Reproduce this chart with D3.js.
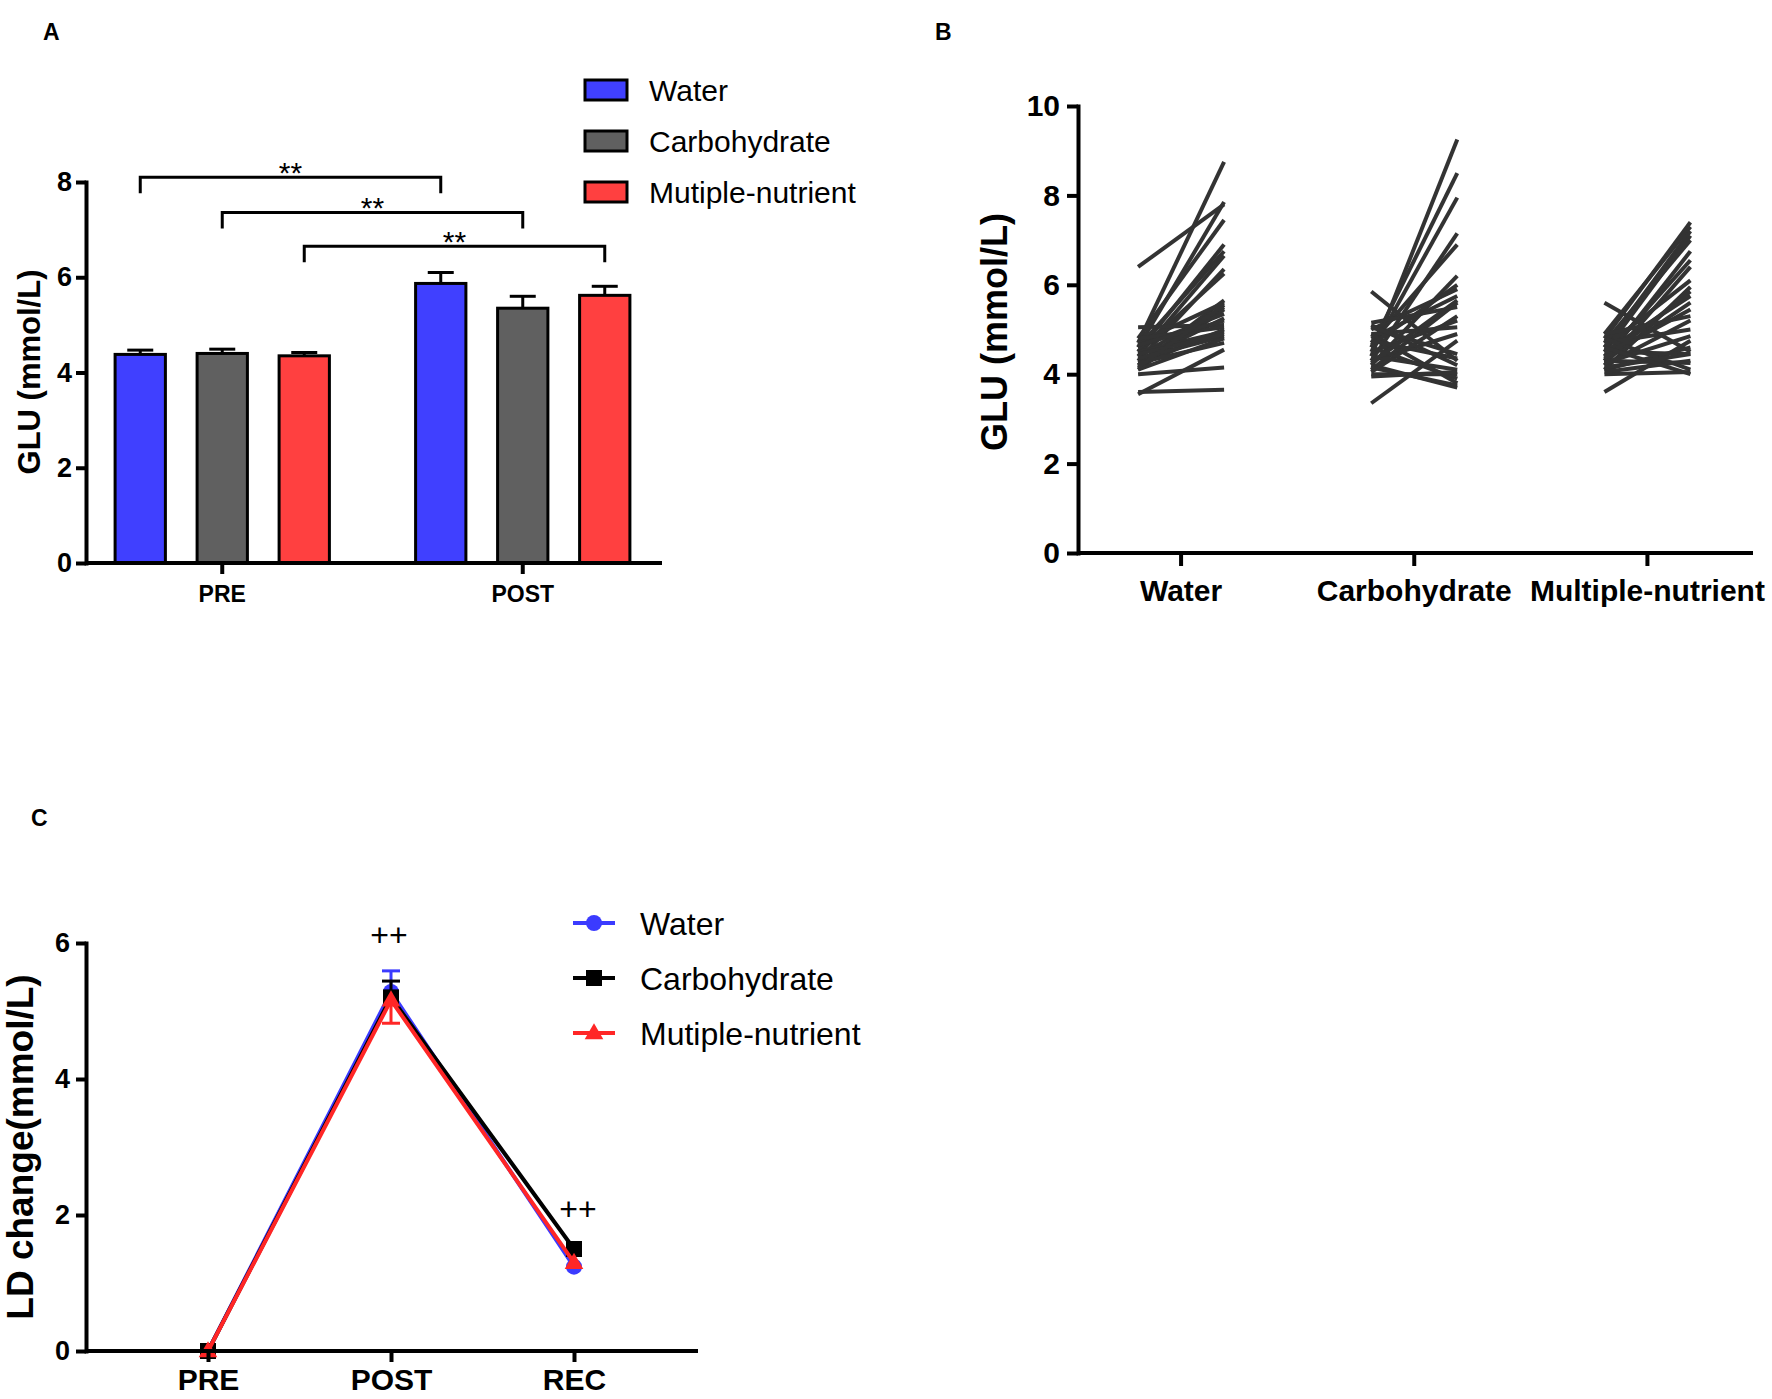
<!DOCTYPE html>
<html>
<head>
<meta charset="utf-8">
<script src="https://cdn.jsdelivr.net/npm/d3@7"></script>
<style>
  body { margin: 0; background: #fff; }
  svg { display: block; font-family: "Liberation Sans", Arial, sans-serif; }
</style>
</head>
<body>
<svg id="fig" width="1772" height="1399"></svg>
<script>
// ---- Panel A: GLU bar chart (mean + SEM) ----
const barGroups = ['PRE', 'POST'];
const barSeries = ['Water', 'Carbohydrate', 'Mutiple-nutrient'];
const barColors = ['#4040ff', '#606060', '#ff4040'];
const waterBar = [4.38, 5.87];
const waterBarErr = [0.09, 0.23];
const carboBar = [4.40, 5.35];
const carboBarErr = [0.09, 0.25];
const multiBar = [4.35, 5.62];
const multiBarErr = [0.07, 0.19];
const barTicks = [0, 2, 4, 6, 8];
const sigLevels = [8.1, 7.36, 6.65];
const sigLabels = ['**', '**', '**'];

// ---- Panel B: individual pre/post GLU ----
const pairedGroups = ['Water', 'Carbohydrate', 'Multiple-nutrient'];
const waterPre  = [6.4, 4.7, 4.6, 4.8, 4.5, 4.6, 4.4, 4.3, 4.5, 4.2, 4.7, 4.4, 4.1, 4.6, 4.3, 5.05, 4.8, 4.2, 4.5, 4.35, 4.1, 4.25, 4.0, 3.55, 3.6, 4.65, 4.45, 4.15];
const waterPost = [7.8, 8.75, 7.85, 7.45, 6.9, 6.75, 6.65, 6.35, 6.25, 5.65, 5.6, 5.5, 5.45, 5.35, 5.25, 5.1, 5.05, 5.0, 4.95, 4.85, 4.8, 4.7, 4.15, 4.55, 3.65, 5.2, 4.9, 5.55];
const carboPre  = [4.4, 4.6, 4.5, 4.3, 4.7, 4.2, 5.0, 4.8, 4.1, 5.15, 4.5, 4.9, 4.3, 3.35, 5.85, 5.1, 4.0, 4.6, 4.9, 4.2, 4.75, 4.05, 4.4, 4.25, 3.95, 4.65, 4.15, 5.05];
const carboPost = [9.25, 8.5, 7.95, 7.15, 6.9, 6.2, 5.9, 5.75, 5.6, 5.5, 5.2, 5.05, 4.9, 4.75, 4.3, 4.2, 4.0, 3.9, 3.8, 3.7, 4.35, 5.3, 4.1, 5.65, 4.05, 6.0, 3.75, 4.45];
const multiPre  = [4.8, 4.9, 4.6, 4.5, 4.7, 4.3, 4.4, 4.2, 4.6, 4.1, 4.5, 4.3, 4.4, 4.2, 4.7, 5.6, 3.6, 4.1, 4.5, 4.0, 4.3, 4.8, 4.15, 4.9, 4.25, 4.35, 4.05, 4.6];
const multiPost = [7.4, 7.3, 7.2, 7.1, 7.0, 6.75, 6.55, 6.4, 6.1, 5.95, 5.75, 5.6, 5.45, 5.2, 5.0, 4.5, 4.75, 4.6, 4.45, 4.05, 4.25, 4.1, 4.45, 5.3, 4.85, 5.85, 4.3, 4.0];
const pairedTicks = [0, 2, 4, 6, 8, 10];

// ---- Panel C: LD change over time ----
const timePoints = ['PRE', 'POST', 'REC'];
const lineSeries = ['Water', 'Carbohydrate', 'Mutiple-nutrient'];
const lineColors = ['#3b3bff', '#000000', '#ff2626'];
const waterLD = [0, 5.28, 1.24];
const waterLDErr = [0, 0.31, 0];
const carboLD = [0, 5.20, 1.50];
const carboLDErr = [0, 0.24, 0];
const multiLD = [0, 5.16, 1.30];
const multiLDErr = [0, -0.34, 0]; // drawn downward in the original
const plusLabels = ['', '++', '++'];
const plusLevels = [0, 5.95, 1.93];
const ldTicks = [0, 2, 4, 6];

const svg = d3.select('#fig');
const intFmt = d3.format('d');

function styleAxis(g, fontSize) {
  g.select('.domain').attr('stroke-width', 4).attr('stroke-linecap', 'square');
  g.selectAll('.tick line').attr('stroke-width', 4);
  g.selectAll('.tick text')
    .attr('fill', '#000')
    .style('font-size', fontSize + 'px')
    .style('font-weight', 'bold')
    .style('font-family', '"Liberation Sans", Arial, sans-serif');
}

function panelLabel(text, x, y) {
  svg.append('text').attr('x', x).attr('y', y)
    .style('font-size', '23px').style('font-weight', 'bold').text(text);
}

function yTitle(text, x, y, size) {
  svg.append('text')
    .attr('transform', `translate(${x},${y}) rotate(-90)`)
    .attr('text-anchor', 'middle')
    .style('font-size', size + 'px')
    .style('font-weight', 'bold')
    .text(text);
}

/* ---------------- Panel A ---------------- */
function drawBars() {
  const y = d3.scaleLinear().domain([0, 8]).range([563, 182]);
  const x0 = d3.scaleBand().domain(barGroups).range([72, 673]);
  const x1 = d3.scaleBand().domain(barSeries).range([-137.35, 137.35]).padding(0.35);
  const means = [waterBar, carboBar, multiBar];
  const errs = [waterBarErr, carboBarErr, multiBarErr];

  const g = svg.append('g');
  const cx = (grp, s) => x0(grp) + x0.bandwidth() / 2 + x1(s) + x1.bandwidth() / 2;

  barSeries.forEach((s, si) => {
    barGroups.forEach((grp, gi) => {
      const v = means[si][gi];
      const e = errs[si][gi];
      const xc = cx(grp, s);
      // error bar (upper only)
      g.append('line')
        .attr('x1', xc).attr('x2', xc)
        .attr('y1', y(v)).attr('y2', y(v + e))
        .attr('stroke', '#000').attr('stroke-width', 3);
      g.append('line')
        .attr('x1', xc - 13).attr('x2', xc + 13)
        .attr('y1', y(v + e)).attr('y2', y(v + e))
        .attr('stroke', '#000').attr('stroke-width', 3);
      g.append('rect')
        .attr('x', xc - x1.bandwidth() / 2 + 1.5)
        .attr('y', y(v))
        .attr('width', x1.bandwidth() - 3)
        .attr('height', y(0) - y(v))
        .attr('fill', barColors[si])
        .attr('stroke', '#000')
        .attr('stroke-width', 3);
    });
  });

  // significance brackets PRE vs POST per drink
  barSeries.forEach((s, si) => {
    const xa = cx('PRE', s), xb = cx('POST', s), yl = y(sigLevels[si]);
    g.append('path')
      .attr('d', `M${xa},${yl + 16}V${yl}H${xb}V${yl + 16}`)
      .attr('fill', 'none').attr('stroke', '#000').attr('stroke-width', 3);
    g.append('text')
      .attr('x', (xa + xb) / 2).attr('y', yl + 6)
      .attr('text-anchor', 'middle')
      .style('font-size', '30px')
      .text(sigLabels[si]);
  });

  const ya = svg.append('g').attr('transform', 'translate(86,0)')
    .call(d3.axisLeft(y).tickValues(barTicks).tickFormat(intFmt).tickSize(10).tickSizeOuter(0).tickPadding(4));
  styleAxis(ya, 27);

  svg.append('line').attr('x1', 86).attr('x2', 662).attr('y1', 563).attr('y2', 563)
    .attr('stroke', '#000').attr('stroke-width', 4);
  const xa = svg.append('g').attr('transform', 'translate(0,563)')
    .call(d3.axisBottom(x0).tickSize(11).tickPadding(12));
  xa.select('.domain').remove();
  styleAxis(xa, 23);

  yTitle('GLU (mmol/L)', 40, 372, 31);

  // legend
  const lg = svg.append('g');
  barSeries.forEach((s, i) => {
    const ly = 90 + i * 51;
    lg.append('rect').attr('x', 585).attr('y', ly - 10).attr('width', 42).attr('height', 20)
      .attr('fill', barColors[i]).attr('stroke', '#000').attr('stroke-width', 3);
    lg.append('text').attr('x', 649).attr('y', ly).attr('dy', '0.36em')
      .style('font-size', '30px').text(s);
  });

  panelLabel('A', 43, 40);
}

/* ---------------- Panel B ---------------- */
function drawPaired() {
  const y = d3.scaleLinear().domain([0, 10]).range([553, 106]);
  const x = d3.scaleBand().domain(pairedGroups).range([1064.5, 1764]);
  const xt = d3.scalePoint().domain(['pre', 'post']).range([-43, 43]);
  const pre = [waterPre, carboPre, multiPre];
  const post = [waterPost, carboPost, multiPost];

  const g = svg.append('g');
  pairedGroups.forEach((grp, gi) => {
    const xc = x(grp) + x.bandwidth() / 2;
    pre[gi].forEach((v, k) => {
      g.append('line')
        .attr('x1', xc + xt('pre')).attr('y1', y(v))
        .attr('x2', xc + xt('post')).attr('y2', y(post[gi][k]))
        .attr('stroke', '#333').attr('stroke-width', 4);
    });
  });

  const ya = svg.append('g').attr('transform', 'translate(1078,0)')
    .call(d3.axisLeft(y).tickValues(pairedTicks).tickFormat(intFmt).tickSize(11).tickSizeOuter(0).tickPadding(7));
  styleAxis(ya, 30);

  svg.append('line').attr('x1', 1078).attr('x2', 1753).attr('y1', 553).attr('y2', 553)
    .attr('stroke', '#000').attr('stroke-width', 4);
  const xa = svg.append('g').attr('transform', 'translate(0,553)')
    .call(d3.axisBottom(x).tickSize(13).tickPadding(14));
  xa.select('.domain').remove();
  styleAxis(xa, 30);

  yTitle('GLU (mmol/L)', 1007, 332, 36);
  panelLabel('B', 935, 40);
}

/* ---------------- Panel C ---------------- */
function marker(g, shape, cx, cy, color) {
  if (shape === 0) {
    g.append('circle').attr('cx', cx).attr('cy', cy).attr('r', 8).attr('fill', color);
  } else if (shape === 1) {
    g.append('rect').attr('x', cx - 8).attr('y', cy - 8).attr('width', 16).attr('height', 16).attr('fill', color);
  } else {
    g.append('path').attr('d', d3.symbol(d3.symbolTriangle, 150)()).attr('transform', `translate(${cx},${cy + 1})`).attr('fill', color);
  }
}

function drawLines() {
  const y = d3.scaleLinear().domain([0, 6]).range([1351, 943]);
  const x = d3.scalePoint().domain(timePoints).range([208, 574]);
  const vals = [waterLD, carboLD, multiLD];
  const errs = [waterLDErr, carboLDErr, multiLDErr];

  const g = svg.append('g');
  const line = d3.line().x((d, i) => x(timePoints[i])).y(d => y(d));

  lineSeries.forEach((s, si) => {
    const col = lineColors[si];
    vals[si].forEach((v, i) => {
      const e = errs[si][i];
      if (e === 0) return;
      const xc = x(timePoints[i]);
      g.append('line').attr('x1', xc).attr('x2', xc).attr('y1', y(v)).attr('y2', y(v + e))
        .attr('stroke', col).attr('stroke-width', 3);
      g.append('line').attr('x1', xc - 9).attr('x2', xc + 9).attr('y1', y(v + e)).attr('y2', y(v + e))
        .attr('stroke', col).attr('stroke-width', 3);
    });
    g.append('path').datum(vals[si]).attr('d', line)
      .attr('fill', 'none').attr('stroke', col).attr('stroke-width', 4);
    vals[si].forEach((v, i) => marker(g, si, x(timePoints[i]), y(v), col));
  });

  plusLabels.forEach((t, i) => {
    if (!t) return;
    g.append('text').attr('x', x(timePoints[i]) + (i === 2 ? 4 : -2)).attr('y', y(plusLevels[i]))
      .attr('text-anchor', 'middle').style('font-size', '32px').text(t);
  });

  const ya = svg.append('g').attr('transform', 'translate(86,0)')
    .call(d3.axisLeft(y).tickValues(ldTicks).tickFormat(intFmt).tickSize(10).tickSizeOuter(0).tickPadding(6));
  styleAxis(ya, 27);

  svg.append('line').attr('x1', 86).attr('x2', 698).attr('y1', 1351).attr('y2', 1351)
    .attr('stroke', '#000').attr('stroke-width', 4);
  const xa = svg.append('g').attr('transform', 'translate(0,1351)')
    .call(d3.axisBottom(x).tickSize(11).tickPadding(7));
  xa.select('.domain').remove();
  styleAxis(xa, 30);

  yTitle('LD change(mmol/L)', 33, 1147, 37);

  // legend
  const lg = svg.append('g');
  lineSeries.forEach((s, i) => {
    const ly = 923 + i * 55;
    lg.append('line').attr('x1', 573).attr('x2', 615).attr('y1', ly).attr('y2', ly)
      .attr('stroke', lineColors[i]).attr('stroke-width', 4);
    marker(lg, i, 594, ly, lineColors[i]);
    lg.append('text').attr('x', 640).attr('y', ly).attr('dy', '0.36em')
      .style('font-size', '32px').text(s);
  });

  panelLabel('C', 31, 826);
}

drawBars();
drawPaired();
drawLines();
</script>
</body>
</html>
